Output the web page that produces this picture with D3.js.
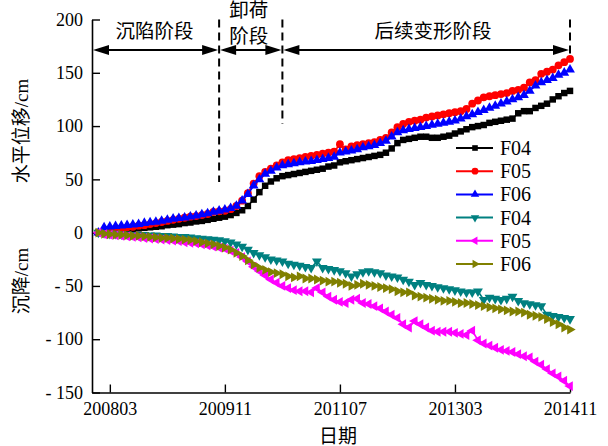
<!DOCTYPE html>
<html>
<head>
<meta charset="utf-8">
<script src="https://cdn.jsdelivr.net/npm/d3@7/dist/d3.min.js"></script>
<style>
  body { margin: 0; background: #fff; }
  text { fill: #000; }
</style>
</head>
<body>
<svg id="chart" width="608" height="446"></svg>
<script>
// Monitoring period (monthly readings, YYYYMM)
const firstMonth = "200801";
const lastMonth = "201411";
const tickLabels = ["200803", "200911", "201107", "201303", "201411"];
const yTicks = [-150, -100, -50, 0, 50, 100, 150, 200];

// Stage boundaries (YYYYMM) and stage names
const stageBounds = ["200910", "201009", "201411"];
const stageNames = ["沉陷阶段", "卸荷\n阶段", "后续变形阶段"];

const seriesNames = ["F04", "F05", "F06", "F04", "F05", "F06"];
const seriesColors = ["#000000", "#ff0000", "#0000ff", "#008080", "#ff00ff", "#808000"];

// Horizontal displacement (cm)
const hF04 = [0, 1, 1.5, 2, 2.5, 3, 3.5, 4, 4.5, 5, 5.5, 6,
  7, 7.5, 8, 9, 9.5, 10.5, 11, 12, 13, 14,
  15, 16.5, 18.5, 21, 25, 31, 38, 44, 48, 51,
  53, 54, 55, 56, 57, 58, 59, 60, 62, 63,
  66, 67, 68, 69, 70, 71, 72, 73, 75, 79,
  84, 87, 88, 89, 90, 90, 89, 89, 90, 91,
  93, 95, 97, 99, 100, 101, 103, 104, 105, 106,
  107, 112, 114, 114, 117, 119, 121, 125, 128, 131,
  133];
const hF05 = [0, 2, 3, 3.5, 4, 5, 5.5, 6.5, 7, 8, 9, 10,
  11, 12, 13, 14, 15, 15.5, 16.5, 17.5, 19.5, 20,
  20.5, 22, 25, 30, 37, 46, 53, 57, 60, 63,
  66, 68, 69, 70, 71, 72, 73, 74, 75, 76,
  83, 78, 81, 82, 83, 84, 85, 87, 89, 94,
  99, 102, 104, 105, 106, 108, 109, 110, 111, 112,
  113, 114, 116, 121, 124, 127, 128, 129, 130, 131,
  133, 134, 136, 141, 143, 149, 151, 153, 157, 160,
  163];
const hF06 = [0, 5, 5.5, 6, 6.5, 7, 7.5, 8, 9, 9.5, 10, 11,
  12, 13, 13.5, 14, 15, 16, 17, 18, 19.5, 20.5,
  21.5, 23, 25, 30, 36, 44, 50, 55, 58, 61,
  63, 64, 65, 66, 66.5, 67, 68, 69, 70, 71,
  75, 76, 77, 78, 80, 81, 82, 84, 86, 90,
  94, 96, 97, 98, 99, 100, 101, 102, 103, 104,
  105, 107, 109, 111, 113, 115, 117, 119, 121, 123,
  125, 127, 129, 133, 138, 141, 143, 145, 148, 150,
  153];

// Settlement (cm)
const sF04 = [0, -0.5, -1, -1, -1.5, -1.5, -2, -2, -2, -2.5, -2.5, -3,
  -3, -3.5, -4, -4, -4.5, -5, -5.5, -6, -6.5, -7,
  -8, -9, -11, -13, -16, -19, -21, -23, -25, -26,
  -27, -29, -30, -31, -32, -33, -27, -33, -34, -35,
  -36, -38, -41, -39, -37, -36, -37, -38, -40, -41,
  -42, -44, -46, -49, -47, -49, -50, -51, -52, -53,
  -54, -55, -56, -56, -55, -63, -61, -62, -63, -62,
  -60, -64, -66, -67, -68, -69, -77, -78, -79, -80,
  -81];
const sF05 = [0, -1.5, -2, -2.5, -3, -3.5, -4, -4.5, -5, -5.5, -6, -6.5,
  -7, -7.5, -8, -9, -9.5, -10, -11, -12, -13, -14,
  -15, -17, -19, -23, -27, -32, -36, -40, -44, -47,
  -50, -52, -54, -55, -55, -56, -52, -56, -60, -63,
  -65, -66, -63, -62, -66, -67, -69, -71, -74, -77,
  -80, -86, -89, -83, -86, -89, -92, -93, -93, -93,
  -94, -95, -96, -92, -101, -104, -106, -108, -110, -111,
  -112, -114, -116, -117, -121, -124, -128, -132, -135, -139,
  -144];
const sF06 = [0, -1, -1.5, -2, -2, -2.5, -3, -3, -3.5, -4, -4.5, -5,
  -5, -5.5, -6, -6.5, -7, -8, -9, -10, -11, -12.5,
  -14, -16, -19, -22, -26, -30, -33, -35, -37, -38,
  -39, -41, -42, -41, -43, -43, -44, -45, -46, -46,
  -47, -48, -50, -49, -48, -49, -50, -51, -52, -53,
  -55, -56, -56, -59, -60, -61, -62, -63, -64, -64,
  -65, -66, -66, -67, -68, -69, -70, -71, -72, -73,
  -74, -74, -75, -77, -78, -79, -81, -84, -86, -89,
  -91];

const seriesValues = [hF04, hF05, hF06, sF04, sF05, sF06];

// month index helpers
const monthIndex = s => (+s.slice(0, 4)) * 12 + (+s.slice(4, 6) - 1);
const i0 = monthIndex(firstMonth), i1 = monthIndex(lastMonth);
const months = d3.range(i0, i1 + 1);

const svg = d3.select("#chart");
const serif = "'Liberation Serif', 'Times New Roman', 'Noto Sans CJK SC', serif";
const cjk = "'Liberation Serif', 'Noto Sans CJK SC', sans-serif";

const plot = { left: 92, right: 570, top: 19.5, bottom: 392.5 };

const x = d3.scaleLinear()
  .domain([monthIndex(tickLabels[0]) - 3.1, monthIndex(tickLabels[tickLabels.length - 1])])
  .range([plot.left, plot.right]);
const y = d3.scaleLinear().domain([-150, 200]).range([plot.bottom, plot.top]);

// axes
const xAxis = d3.axisBottom(x)
  .tickValues(tickLabels.map(monthIndex))
  .tickFormat((d, i) => tickLabels[i])
  .tickSizeInner(-8).tickSizeOuter(0).tickPadding(10);
const yAxis = d3.axisLeft(y)
  .tickValues(yTicks)
  .tickFormat(d => d < 0 ? "- " + Math.abs(d) : String(d))
  .tickSizeInner(-8).tickSizeOuter(0).tickPadding(9);

const gx = svg.append("g").attr("transform", `translate(0,${plot.bottom})`).call(xAxis);
const gy = svg.append("g").attr("transform", `translate(${plot.left},0)`).call(yAxis);
[gx, gy].forEach(g => {
  g.select(".domain").attr("stroke", "#000").attr("stroke-width", 1.6);
  g.selectAll(".tick line").attr("stroke", "#000").attr("stroke-width", 1.4);
  g.selectAll(".tick text").attr("font-family", serif).attr("font-size", 18).attr("fill", "#000");
});

// axis titles
svg.append("text")
  .attr("transform", "translate(28,131) rotate(-90)")
  .attr("text-anchor", "middle")
  .attr("font-family", cjk).attr("font-size", 19)
  .text("水平位移/cm");
svg.append("text")
  .attr("transform", "translate(28,281) rotate(-90)")
  .attr("text-anchor", "middle")
  .attr("font-family", cjk).attr("font-size", 19)
  .text("沉降/cm");
svg.append("text")
  .attr("x", 338).attr("y", 443)
  .attr("text-anchor", "middle")
  .attr("font-family", cjk).attr("font-size", 19)
  .text("日期");

// stage boundaries (dashed) and double arrows
const bx = stageBounds.map(s => x(monthIndex(s)));
const dashBottoms = [182, 124, 55];
svg.append("g").selectAll("line").data(bx).join("line")
  .attr("x1", d => d).attr("x2", d => d)
  .attr("y1", plot.top).attr("y2", (d, i) => dashBottoms[i])
  .attr("stroke", "#000").attr("stroke-width", 2)
  .attr("stroke-dasharray", "8,5");

const arrowY = 50, headLen = 16, headHalf = 5;
const spans = [[plot.left, bx[0]], [bx[0], bx[1]], [bx[1], bx[2]]];
const ga = svg.append("g");
spans.forEach(([a, b]) => {
  ga.append("line").attr("x1", a + 4).attr("x2", b - 4)
    .attr("y1", arrowY).attr("y2", arrowY)
    .attr("stroke", "#000").attr("stroke-width", 2);
  ga.append("path")
    .attr("d", `M${a + 1},${arrowY} L${a + 1 + headLen},${arrowY - headHalf} L${a + 1 + headLen},${arrowY + headHalf} Z`)
    .attr("fill", "#000");
  ga.append("path")
    .attr("d", `M${b - 1},${arrowY} L${b - 1 - headLen},${arrowY - headHalf} L${b - 1 - headLen},${arrowY + headHalf} Z`)
    .attr("fill", "#000");
});

const annFont = 19.5;
svg.append("text").attr("x", (plot.left + bx[0]) / 2 - 1).attr("y", 38)
  .attr("text-anchor", "middle").attr("font-family", cjk).attr("font-size", annFont)
  .text(stageNames[0]);
stageNames[1].split("\n").forEach((t, i) => {
  svg.append("text").attr("x", (bx[0] + bx[1]) / 2 - 2).attr("y", i === 0 ? 17 : 43)
    .attr("text-anchor", "middle").attr("font-family", cjk).attr("font-size", annFont)
    .text(t);
});
svg.append("text").attr("x", 433).attr("y", 38)
  .attr("text-anchor", "middle").attr("font-family", cjk).attr("font-size", annFont)
  .text(stageNames[2]);

// series
const markers = [
  { type: d3.symbolSquare, size: 42, rot: 0 },
  { type: d3.symbolCircle, size: 48, rot: 0 },
  { type: d3.symbolTriangle, size: 42, rot: 0 },
  { type: d3.symbolTriangle, size: 42, rot: 180 },
  { type: d3.symbolTriangle, size: 42, rot: -90 },
  { type: d3.symbolTriangle, size: 42, rot: 90 }
];

const line = d3.line().x(d => x(d.m)).y(d => y(d.v));

seriesValues.forEach((vals, k) => {
  const pts = vals.map((v, i) => ({ m: months[i], v }));
  const g = svg.append("g");
  g.append("path").datum(pts)
    .attr("d", line)
    .attr("fill", "none")
    .attr("stroke", seriesColors[k])
    .attr("stroke-width", 1.6);
  const sym = d3.symbol().type(markers[k].type).size(markers[k].size);
  g.selectAll("path.mk").data(pts).join("path")
    .attr("class", "mk")
    .attr("d", sym)
    .attr("transform", d => `translate(${x(d.m)},${y(d.v)}) rotate(${markers[k].rot})`)
    .attr("fill", seriesColors[k]);
});

// legend
const lg = svg.append("g");
seriesNames.forEach((name, k) => {
  const ly = 148 + k * 23.2;
  lg.append("line").attr("x1", 456).attr("x2", 493).attr("y1", ly).attr("y2", ly)
    .attr("stroke", seriesColors[k]).attr("stroke-width", 2);
  lg.append("path")
    .attr("d", d3.symbol().type(markers[k].type).size(markers[k].size * 0.75))
    .attr("transform", `translate(475,${ly}) rotate(${markers[k].rot})`)
    .attr("fill", seriesColors[k]);
  lg.append("text").attr("x", 500).attr("y", ly).attr("dy", "0.35em")
    .attr("font-family", serif).attr("font-size", 20)
    .text(name);
});
</script>
</body>
</html>
